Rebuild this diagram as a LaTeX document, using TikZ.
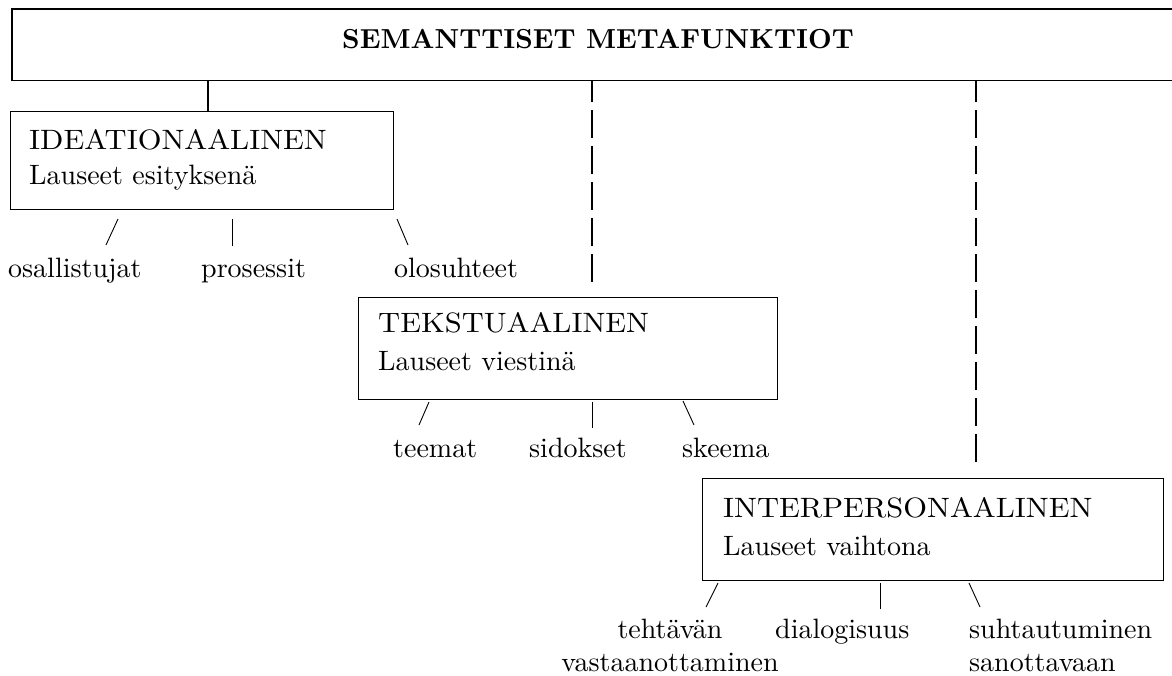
\documentclass[tikz,border=0pt]{standalone}
\usepackage{fontspec}
\setmainfont{lmroman10-regular.otf}[BoldFont=lmroman10-bold.otf]
\tikzset{
  boxn/.style={draw, line width=1.4pt, inner sep=0pt, anchor=north west},
  txt/.style={anchor=base west, inner sep=0pt, font=\fontsize{28}{34}\selectfont},
  capt/.style={txt, xscale=1.09},
  txtc/.style={txt, anchor=base},
  titlet/.style={anchor=base, inner sep=0pt, font=\fontsize{27.5}{33}\selectfont\bfseries},
  tickl/.style={line width=0.9pt},
  solidl/.style={line width=1.2pt},
  dashl/.style={line width=1.3pt, dash pattern=on 28pt off 8pt, dash phase=6pt}
}
\begin{document}
\begin{tikzpicture}[x=1pt,y=-1pt]
\useasboundingbox (0,0) rectangle (1172,675);
% top box (open at the right)
\node[inner sep=0pt, minimum width=1160pt, minimum height=71pt, anchor=north west] (top) at (12,9) {};
\draw[line width=1.4pt] (top.north east) -- (top.north west) -- (top.south west) -- (top.south east);
\node[titlet] (title) at (598,48) {SEMANTTISET METAFUNKTIOT};

% boxes
\node[boxn, minimum width=383pt, minimum height=98pt] (b1) at (10,111) {};
\node[boxn, minimum width=419pt, minimum height=102pt] (b2) at (358,297) {};
\node[boxn, minimum width=461pt, minimum height=102pt] (b3) at (702,478) {};

\node[capt] (b1a) at (29,149) {IDEATIONAALINEN};
\node[txt] (b1b) at (29,184) {Lauseet esityksenä};
\node[capt] (b2a) at (378,332) {TEKSTUAALINEN};
\node[txt] (b2b) at (378,370) {Lauseet viestinä};
\node[capt] (b3a) at (723,517) {INTERPERSONAALINEN};
\node[txt] (b3b) at (723,555) {Lauseet vaihtona};

% links from the top box
\coordinate (c1) at (208,0);
\draw[solidl] (c1 |- top.south) -- (c1 |- b1.north);
\coordinate (d1) at (592,0);
\coordinate (d1e) at (592,283);
\draw[dashl] (d1 |- top.south) -- (d1e);
\coordinate (d2) at (976,0);
\coordinate (d2e) at (976,463);
\draw[dashl] (d2 |- top.south) -- (d2e);

% row 1
\coordinate (r1a1) at (118,219); \coordinate (r1a2) at (106,245);
\coordinate (r1b1) at (232,219); \coordinate (r1b2) at (232,246);
\coordinate (r1c1) at (397,219); \coordinate (r1c2) at (408,245);
\draw[tickl] (r1a1) -- (r1a2);
\draw[tickl] (r1b1) -- (r1b2);
\draw[tickl] (r1c1) -- (r1c2);
\node[txt] (l1a) at (8,277) {osallistujat};
\node[txt] (l1b) at (201,277) {prosessit};
\node[txt] (l1c) at (394,277) {olosuhteet};

% row 2
\coordinate (r2a1) at (429,402); \coordinate (r2a2) at (419,425);
\coordinate (r2b1) at (592,402); \coordinate (r2b2) at (592,428);
\coordinate (r2c1) at (683,401); \coordinate (r2c2) at (694,425);
\draw[tickl] (r2a1) -- (r2a2);
\draw[tickl] (r2b1) -- (r2b2);
\draw[tickl] (r2c1) -- (r2c2);
\node[txt] (l2a) at (393,457) {teemat};
\node[txt] (l2b) at (529,457) {sidokset};
\node[txt] (l2c) at (682,457) {skeema};

% row 3
\coordinate (r3a1) at (718,583); \coordinate (r3a2) at (706,607);
\coordinate (r3b1) at (880,583); \coordinate (r3b2) at (880,609);
\coordinate (r3c1) at (969,583); \coordinate (r3c2) at (980,607);
\draw[tickl] (r3a1) -- (r3a2);
\draw[tickl] (r3b1) -- (r3b2);
\draw[tickl] (r3c1) -- (r3c2);
\node[txtc] (l3a) at (670,638) {tehtävän};
\node[txtc] (l3a2) at (670,671) {vastaanottaminen};
\node[txt] (l3b) at (775,638) {dialogisuus};
\node[txt] (l3c) at (969,638) {suhtautuminen};
\node[txt] (l3c2) at (969,671) {sanottavaan};
\end{tikzpicture}
\end{document}
